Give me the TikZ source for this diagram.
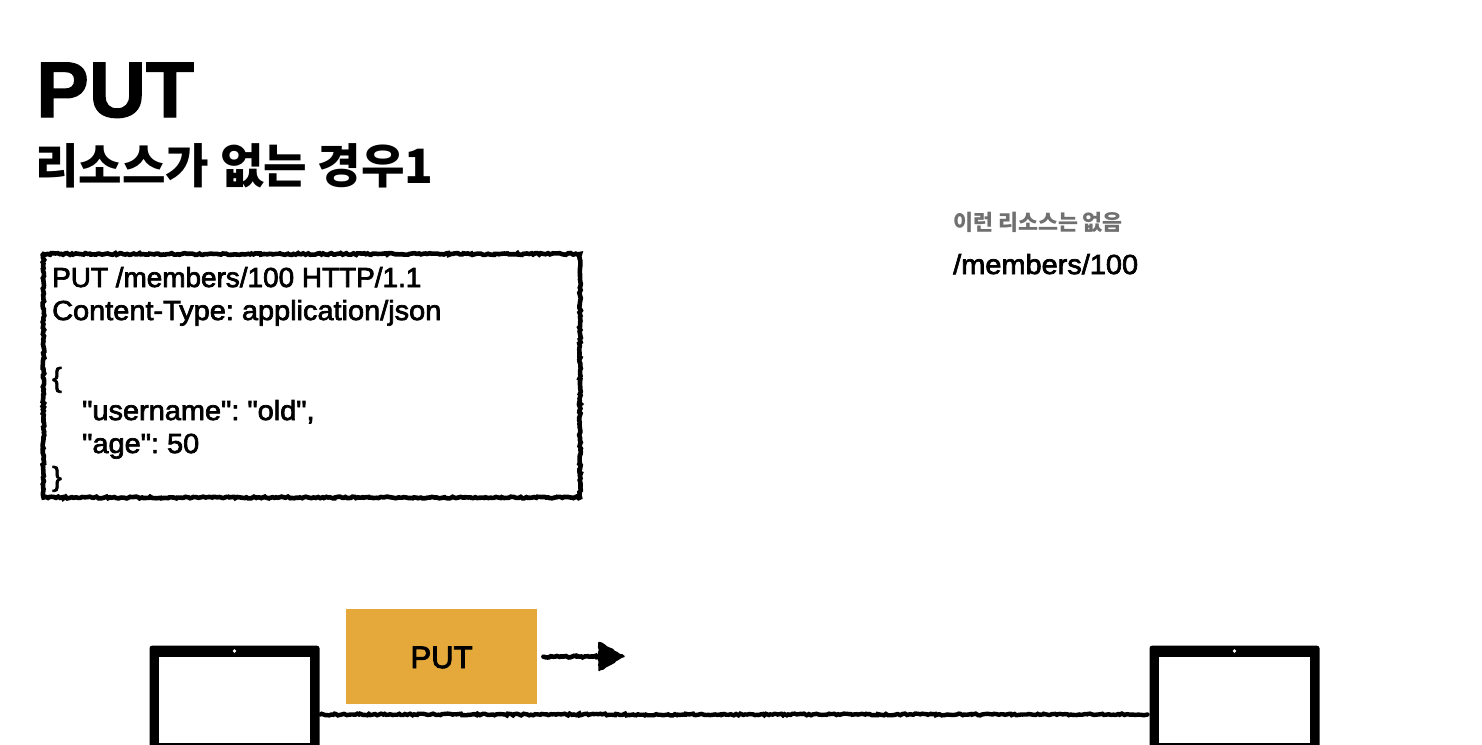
\documentclass[tikz,border=0pt]{standalone}
\usepackage{fontspec}
\setmainfont{Liberation Sans}
\newfontfamily\krfont{Noto Sans CJK KR}
\newfontfamily\bodyfont[FakeStretch=1.052,FakeBold=2.6]{Liberation Sans}
\newfontfamily\firstfont[FakeStretch=1.015,FakeBold=2.6]{Liberation Sans}
\newfontfamily\labelfont[FakeBold=3]{Liberation Sans}
\newfontfamily\titlefont[FakeBold=1.6]{Liberation Sans Bold}
\usetikzlibrary{decorations.pathmorphing,calc,positioning}
\definecolor{putorange}{HTML}{E5A93B}
\definecolor{inkblack}{HTML}{000000}
\definecolor{notegray}{HTML}{707070}
\pgfmathsetseed{42}
\tikzset{
  x=1pt,y=-1pt,
  rough/.style={decorate,decoration={random steps,segment length=2pt,amplitude=0.9pt},draw=inkblack,line cap=round},
  titletext/.style={anchor=base west,inner sep=0,text=inkblack,font=\titlefont\fontsize{79}{79}\selectfont},
  subtitletext/.style={anchor=base west,inner sep=0,text=inkblack,font=\krfont\fontsize{47.3}{47.3}\selectfont\bfseries},
  bodytext/.style={anchor=base west,inner sep=0,text=inkblack,font=\bodyfont\fontsize{27.5}{27.5}\selectfont\frenchspacing},
  laptopbody/.style={fill=black,rounded corners=2.5pt,minimum width=170pt,minimum height=110pt,inner sep=0,outer sep=0,anchor=north west},
  laptopscreen/.style={fill=white,minimum width=151pt,minimum height=86.5pt,inner sep=0,outer sep=0,anchor=north west},
  camdot/.style={circle,fill=white,minimum size=3.8pt,inner sep=0},
}
\begin{document}
\begin{tikzpicture}
\useasboundingbox (0,0) rectangle (1482,744);
\clip (0,0) rectangle (1482,744);
\fill[white] (0,0) rectangle (1482,744);
\node[titletext] (title) at (36,117) {PUT};
\node[subtitletext] (subtitle) at (35,183) {리소스가 없는 경우1};
% request box
\draw[rough,line width=4.6pt] (43.5,254) -- (580,254) -- (580,497.5) -- (43.5,497.5) -- cycle;
\node[bodytext,font=\firstfont\fontsize{27.5}{27.5}\selectfont\frenchspacing] (l1) at (52,287) {PUT /members/100 HTTP/1.1};
\node[bodytext] (l2) at (52,320) {Content-Type: application/json};
\node[bodytext] (l3) at (52,387) {\{};
\node[bodytext] (l4) at (82,420) {"username": "old",};
\node[bodytext] (l5) at (82,453) {"age": 50};
\node[bodytext] (l6) at (52,486) {\}};
% resource note
\node[anchor=base west,inner sep=0,text=notegray,font=\krfont\fontsize{21.7}{21.7}\selectfont\bfseries] (note) at (953,230) {이런 리소스는 없음};
\node[bodytext] (res) at (953,274) {/members/100};
% laptops
\node[laptopbody] (client) at (149.5,645.7) {};
\node[laptopbody] (server) at (1149.5,645.7) {};
\node[laptopscreen] (clientscreen) at (159,656.7) {};
\node[laptopscreen] (serverscreen) at (1159,656.7) {};
\node[camdot] (clientcam) at (234.5,651) {};
\node[camdot] (servercam) at (1234.5,651) {};
% connector
\coordinate (cl) at ($(client.east)+(1,13.8)$);
\coordinate (sr) at ($(server.west)+(-2,13.8)$);
\draw[rough,line width=4.4pt] (cl) -- (sr);
% message
\node[fill=putorange,minimum width=191pt,minimum height=95pt,inner sep=0,anchor=north west] (put) at (346,609) {};
\node[anchor=base,inner sep=0,text=inkblack,font=\labelfont\fontsize{31}{31}\selectfont] (putlabel) at (441.5,668) {PUT};
\coordinate (tip) at (624,656.5);
\draw[rough,line width=4.6pt] ($(put.east)+(6,0)$) -- ($(tip)+(-24,0)$);
\fill[inkblack,draw=inkblack,line width=1.5pt,line join=round,decorate,decoration={random steps,segment length=3pt,amplitude=0.7pt}] ($(tip)+(-25,-14)$) -- (tip) -- ($(tip)+(-25,14)$) -- cycle;
\end{tikzpicture}
\end{document}
